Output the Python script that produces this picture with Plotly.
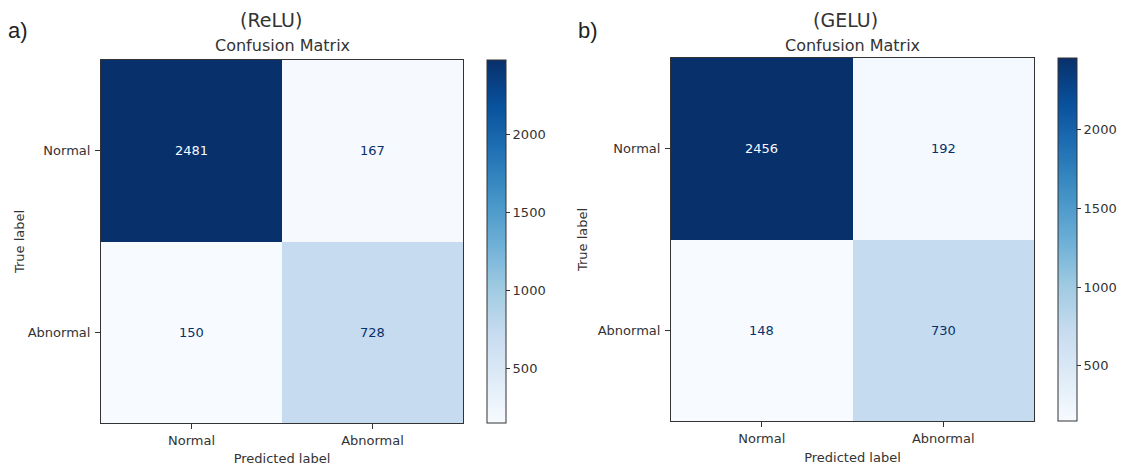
import plotly.graph_objects as go

# ---------------- data ----------------
class_labels = ["Normal", "Abnormal"]
relu_matrix = [[2481, 167],
               [150, 728]]
gelu_matrix = [[2456, 192],
               [148, 730]]
colorbar_ticks = [500, 1000, 1500, 2000]
panel_letters = ["a)", "b)"]
panel_names = ["(ReLU)", "(GELU)"]
matrix_title = "Confusion Matrix"
x_title = "Predicted label"
y_title = "True label"

# matplotlib "Blues"
blues = ['#f7fbff', '#deebf7', '#c6dbef', '#9ecae1', '#6baed6',
         '#4292c6', '#2171b5', '#08519c', '#08306b']
colorscale = [[i / (len(blues) - 1), c] for i, c in enumerate(blues)]

# page body has an 8px margin -> figure is drawn 8px right/down
OFF = 8
W, H = 1128 - OFF, 466 - OFF
TXT = "#333333"
FONT = "DejaVu Sans"


def px_x(p):
    return (p - OFF) / W


def px_y(p):
    return 1 - (p - OFF) / H


panels = [
    dict(mat=relu_matrix, x0=101, x1=463, y0=60, y1=423, cbx=487,
         letter_x=18, name_x=271, ystand=0),
    dict(mat=gelu_matrix, x0=671, x1=1034, y0=58, y1=421, cbx=1058,
         letter_x=588, name_x=845, ystand=7),
]

fig = go.Figure()
annotations = []
layout = {}

for i, p in enumerate(panels):
    k = "" if i == 0 else str(i + 1)
    mat = p["mat"]
    flat = [v for row in mat for v in row]
    zmin, zmax = min(flat), max(flat)
    fig.add_trace(go.Heatmap(
        z=mat, x=class_labels, y=class_labels,
        xaxis="x" + k, yaxis="y" + k,
        colorscale=colorscale, zmin=zmin, zmax=zmax,
        hoverinfo="z",
        colorbar=dict(
            x=px_x(p["cbx"]), xanchor="left", xpad=0,
            y=px_y((p["y0"] + p["y1"]) / 2), yanchor="middle", ypad=0,
            len=p["y1"] - p["y0"], lenmode="pixels",
            thickness=19, thicknessmode="pixels",
            outlinewidth=1, outlinecolor=TXT,
            ticks="outside", ticklen=4, tickcolor=TXT, tickwidth=1,
            tickvals=colorbar_ticks,
            tickfont=dict(family=FONT, size=13, color=TXT),
        ),
    ))
    axis_common = dict(
        showline=True, linecolor=TXT, linewidth=1, mirror=True,
        ticks="outside", ticklen=5, tickcolor=TXT, tickwidth=1,
        showgrid=False, zeroline=False, fixedrange=True,
        tickfont=dict(family=FONT, size=13, color=TXT),
    )
    layout["xaxis" + k] = dict(
        axis_common, domain=[px_x(p["x0"]), px_x(p["x1"])],
        anchor="y" + k,
        title=dict(text=x_title, font=dict(family=FONT, size=13, color=TXT),
                   standoff=8),
    )
    layout["yaxis" + k] = dict(
        axis_common, domain=[px_y(p["y1"]), px_y(p["y0"])],
        anchor="x" + k, autorange="reversed", ticklabelstandoff=2,
        title=dict(text=y_title, font=dict(family=FONT, size=13, color=TXT),
                   standoff=p["ystand"]),
    )
    # cell values
    thresh = (zmin + zmax) / 2
    for r, row in enumerate(mat):
        for c, v in enumerate(row):
            annotations.append(dict(
                x=class_labels[c], y=class_labels[r],
                xref="x" + k, yref="y" + k,
                text=str(v), showarrow=False,
                font=dict(family=FONT, size=13,
                          color="#f7fbff" if v > thresh else "#08306b"),
            ))
    # titles
    annotations.append(dict(
        x=px_x((p["x0"] + p["x1"]) / 2), y=px_y(45), xref="paper", yref="paper",
        text=matrix_title, showarrow=False, xanchor="center", yanchor="middle",
        font=dict(family=FONT, size=16, color=TXT)))
    annotations.append(dict(
        x=px_x(p["name_x"]), y=px_y(20), xref="paper", yref="paper",
        text=panel_names[i], showarrow=False, xanchor="center", yanchor="middle",
        font=dict(family=FONT, size=19, color=TXT)))
    annotations.append(dict(
        x=px_x(p["letter_x"]), y=px_y(30), xref="paper", yref="paper",
        text=panel_letters[i], showarrow=False, xanchor="center", yanchor="middle",
        font=dict(family="Liberation Sans", size=22, color="#222222")))

fig.update_layout(
    width=W, height=H,
    margin=dict(l=0, r=0, t=0, b=0),
    paper_bgcolor="white", plot_bgcolor="white",
    annotations=annotations,
    showlegend=False,
    **layout,
)

fig.write_html("out.html")
